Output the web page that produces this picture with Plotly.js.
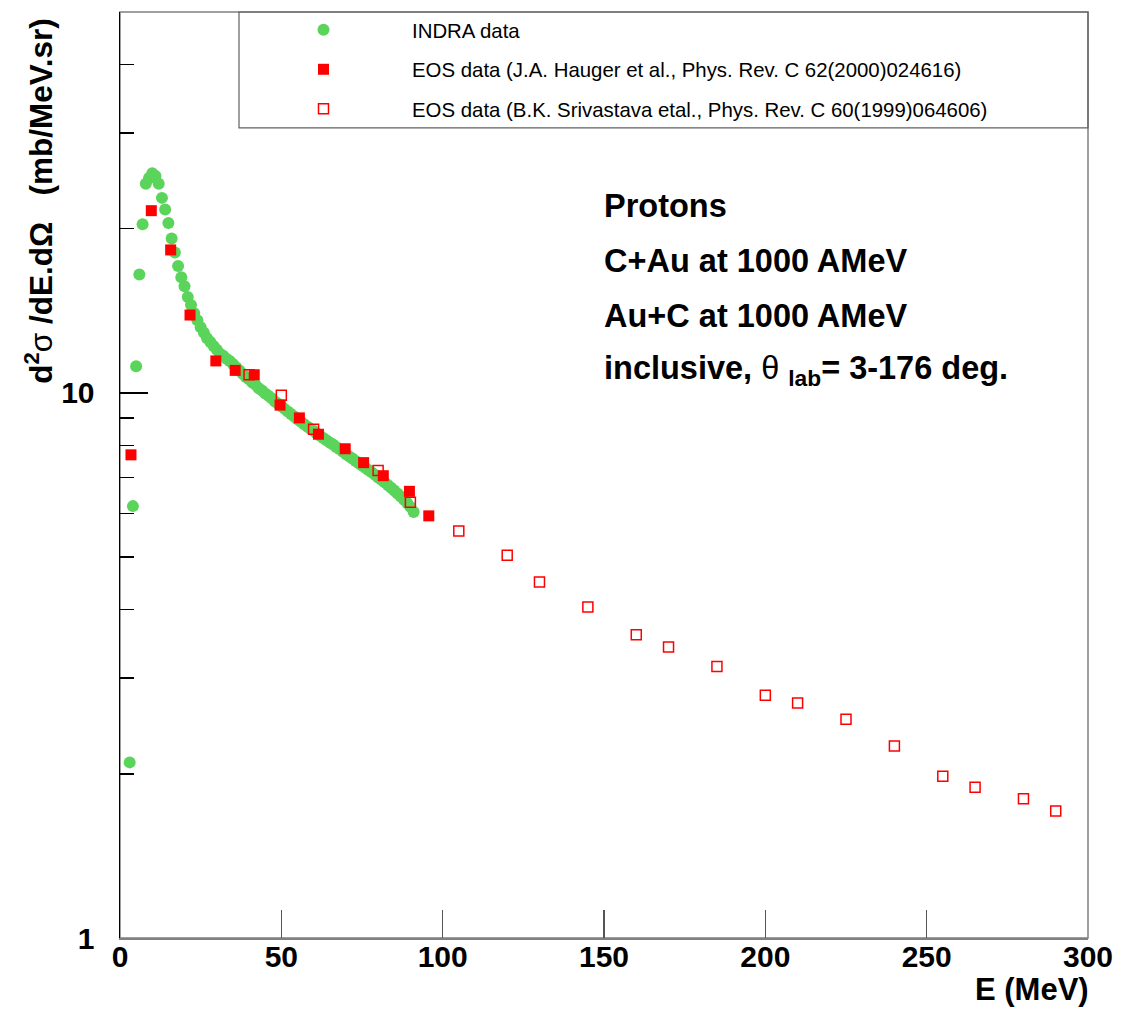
<!DOCTYPE html>
<html>
<head>
<meta charset="utf-8">
<script src="https://cdn.plot.ly/plotly-3.0.1.min.js"></script>
<style>
html,body{margin:0;padding:0;background:#fff;}
#chart{width:1133px;height:1013px;}
</style>
</head>
<body>
<div id="chart"></div>
<script>
// ---- data ----
const indraE = [3,4,5,6,7,8,9,10,11,12,13,14,15,16,17,18,19,20,21,22,23,24,25,26,27,28,29,30,
  31,32,33,34,35,36,37,38,39,40,41,42,43,44,45,46,47,48,49,50,51,52,53,54,55,56,57,58,59,60,
  61,62,63,64,65,66,67,68,69,70,71,72,73,74,75,76,77,78,79,80,81,82,83,84,85,86,87,88,89,90,91];
const indraV = [2.1,6.2,11.2,16.5,20.4,24.2,24.8,25.3,25.0,24.2,22.8,21.7,20.5,19.2,18.1,17.1,16.3,15.7,15.0,14.5,
  14.0,13.6,13.2,12.9,12.6,12.4,12.2,12.0,11.8,11.7,11.55,11.45,11.3,11.15,11.0,10.85,10.7,10.6,10.45,10.35,
  10.2,10.1,9.98,9.88,9.78,9.65,9.55,9.45,9.35,9.25,9.15,9.05,8.95,8.86,8.77,8.68,8.6,8.52,8.43,8.35,
  8.27,8.19,8.11,8.04,7.96,7.89,7.81,7.73,7.65,7.58,7.5,7.43,7.36,7.29,7.22,7.15,7.08,7.0,6.93,6.86,
  6.78,6.7,6.62,6.54,6.46,6.37,6.28,6.18,6.05];

const haugerE = [3.4,9.7,15.7,21.7,29.7,35.7,41.6,49.6,55.6,61.5,69.8,75.5,81.6,89.7,95.7];
const haugerV = [7.7,21.6,18.3,13.9,11.45,11.0,10.8,9.5,9.0,8.4,7.9,7.45,7.05,6.6,5.95];

const srivE = [40,50,60,80,90,105,120,130,145,160,170,185,200,210,225,240,255,265,280,290];
const srivV = [10.8,9.9,8.58,7.21,6.30,5.58,5.04,4.50,4.05,3.60,3.42,3.15,2.79,2.70,2.52,2.25,1.98,1.89,1.80,1.71];

const seriesNames = [
  'INDRA data',
  'EOS data (J.A. Hauger et al., Phys. Rev. C 62(2000)024616)',
  'EOS data (B.K. Srivastava etal., Phys. Rev. C 60(1999)064606)'
];
const xTicks = [0,50,100,150,200,250,300];
const yTicks = [1,10];
const yTickText = ['1','10'];
const yMinorTicks = [2,3,4,5,6,7,8,9,20,30,40,50];
const infoLines = [
  'Protons',
  'C+Au at 1000 AMeV',
  'Au+C at 1000 AMeV',
  'inclusive, <span style="font-weight:normal">θ</span> <sub>lab</sub>= 3-176 deg.'
];
const xTitle = 'E (MeV)';
const yTitle = 'd<sup>2</sup><span style="font-weight:normal">σ</span> /dE.dΩ \u00a0 (mb/MeV.sr)';

// ---- layout helpers (pixel -> paper) ----
const W = 1133, H = 1013, ML = 120, MR = 45, MT = 11, MB = 75;
const PW = W - ML - MR, PH = H - MT - MB;
const px = v => (v - ML) / PW;
const py = v => (H - MB - v) / PH;

const FONT = 'Liberation Sans, Arial, Helvetica, sans-serif';
const green = 'rgb(90,212,90)';
const red = 'rgb(255,0,0)';

const traces = [
  {x: indraE, y: indraV, type: 'scatter', mode: 'markers', name: seriesNames[0], legendgroup: 'a',
   marker: {symbol: 'circle', size: 12, color: green}},
  {x: haugerE, y: haugerV, type: 'scatter', mode: 'markers', name: seriesNames[1], legendgroup: 'b',
   marker: {symbol: 'square', size: 11, color: red}},
  {x: srivE, y: srivV, type: 'scatter', mode: 'markers', name: seriesNames[2], legendgroup: 'c',
   marker: {symbol: 'square-open', size: 10, color: red, line: {width: 1.5, color: red}}}
];

const infoY = [205, 260, 315, 370];
const annotations = infoLines.map((t, i) => ({
  xref: 'paper', yref: 'paper', x: px(602), y: py(infoY[i]), xanchor: 'left', yanchor: 'middle',
  text: t, showarrow: false, font: {family: FONT, size: 32.5, color: '#000', weight: 'bold'}
}));
annotations.push({
  xref: 'paper', yref: 'paper', x: px(1091), y: py(990), xanchor: 'right', yanchor: 'middle',
  text: xTitle, showarrow: false, font: {family: FONT, size: 31, color: '#000', weight: 'bold'}
});
annotations.push({
  xref: 'paper', yref: 'paper', x: px(39), y: py(200), xanchor: 'center', yanchor: 'middle',
  textangle: -90, text: yTitle, showarrow: false,
  font: {family: FONT, size: 31.5, color: '#000', weight: 'bold'}
});

const layout = {
  width: W, height: H,
  margin: {l: ML, r: MR, t: MT, b: MB, pad: 0},
  paper_bgcolor: '#fff', plot_bgcolor: '#fff',
  showlegend: true,
  legend: {
    x: px(235), y: py(10), xanchor: 'left', yanchor: 'top',
    bgcolor: 'rgba(0,0,0,0)', borderwidth: 0,
    font: {family: FONT, size: 20.4, color: '#000'},
    itemwidth: 167, tracegroupgap: 10
  },
  xaxis: {
    type: 'linear', range: [0, 300], tickmode: 'array', tickvals: xTicks,
    ticks: 'inside', ticklen: 28, tickwidth: 1.2, tickcolor: '#555',
    showline: true, linecolor: '#808080', linewidth: 2, mirror: false,
    showgrid: false, zeroline: false, ticklabelstandoff: -9,
    tickfont: {family: FONT, size: 30, color: '#000', weight: 'bold'}
  },
  yaxis: {
    type: 'log', range: [0, Math.log10(50)], tickmode: 'array', tickvals: yTicks, ticktext: yTickText,
    ticks: 'inside', ticklen: 28, tickwidth: 1.2, tickcolor: '#000',
    minor: {tickmode: 'array', tickvals: yMinorTicks, ticks: 'inside', ticklen: 14, tickwidth: 1.2, tickcolor: '#000', showgrid: false},
    showline: true, linecolor: '#000', linewidth: 1.5, mirror: false,
    showgrid: false, zeroline: false, ticklabelstandoff: 18,
    tickfont: {family: FONT, size: 30, color: '#000', weight: 'bold'}
  },
  shapes: [
    {type: 'rect', xref: 'paper', yref: 'paper', x0: 0, x1: 1, y0: 0, y1: 1,
     line: {color: '#808080', width: 1.5}, fillcolor: 'rgba(0,0,0,0)', layer: 'below'},
    {type: 'rect', xref: 'paper', yref: 'paper', x0: px(239), x1: 1, y0: py(127), y1: 1,
     line: {color: '#606060', width: 1.2}, fillcolor: 'rgba(0,0,0,0)', layer: 'above'}
  ],
  annotations: annotations
};

Plotly.newPlot('chart', traces, layout, {displayModeBar: false, staticPlot: true});
</script>
</body>
</html>
